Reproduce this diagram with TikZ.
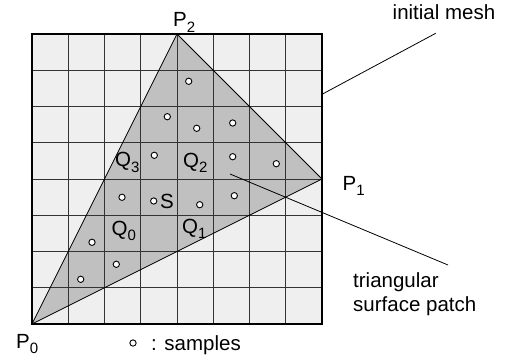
\documentclass[tikz,border=0pt]{standalone}
\usepackage{fontspec}
\setmainfont{Liberation Sans}
\newcommand\lbsub[1]{\raisebox{-0.28em}{\fontsize{15}{15}\selectfont #1}}
\definecolor{meshbg}{HTML}{EFEFEF}
\definecolor{patch}{HTML}{C0C0C0}
\begin{document}
\begin{tikzpicture}[x=1pt,y=-1pt,
  lbl/.style={font=\fontsize{20.5}{24}\selectfont, inner sep=0pt, anchor=base west},
  sample/.style={circle, draw, fill=white, minimum size=6.3pt, inner sep=0pt, line width=0.9pt},
  gridline/.style={line width=1pt, black!80},
  edge/.style={line width=0.8pt},
  leader/.style={line width=0.8pt}]
\useasboundingbox (0,0) rectangle (511,361);
% mesh background
\fill[meshbg] (32,34) rectangle (322,324);
\coordinate (P0) at (32,324);
\coordinate (P1) at (322,179);
\coordinate (P2) at (177,34);
% triangular patch
\fill[patch] (P0) -- (P1) -- (P2) -- cycle;
% grid
\foreach \k in {1,...,7}{
  \draw[gridline] ({32+36.25*\k},34) -- ({32+36.25*\k},324);
  \draw[gridline] (32,{34+36.25*\k}) -- (322,{34+36.25*\k});
}
\draw[edge] (P0) -- (P1) -- (P2) -- cycle;
\draw[line width=2.4pt] (32,34) rectangle (322,324);
% samples
\node[sample] (s1) at (188.7,81.3) {};
\node[sample] (s2) at (167.3,116.7) {};
\node[sample] (s3) at (196.7,128.3) {};
\node[sample] (s4) at (232.7,123) {};
\node[sample] (s5) at (154.3,155.3) {};
\node[sample] (s6) at (232.7,156.7) {};
\node[sample] (s7) at (276.3,163.7) {};
\node[sample] (s8) at (122,197.3) {};
\node[sample] (s9) at (153.7,201) {};
\node[sample] (s10) at (199.7,204.7) {};
\node[sample] (s11) at (234.3,195.7) {};
\node[sample] (s12) at (92,242.3) {};
\node[sample] (s13) at (116.3,264.3) {};
\node[sample] (s14) at (80.7,279.3) {};
% labels
\node[lbl] (lP2) at (173,26.7) {P\lbsub{2}};
\node[lbl] (lP1) at (342.5,190) {P\lbsub{1}};
\node[lbl] (lP0) at (16,348) {P\lbsub{0}};
\node[lbl] (lQ3) at (115,166.5) {Q\lbsub{3}};
\node[lbl] (lQ2) at (183,167) {Q\lbsub{2}};
\node[lbl] (lQ0) at (111.5,235) {Q\lbsub{0}};
\node[lbl] (lQ1) at (182,233) {Q\lbsub{1}};
\node[lbl] (lS) at (160,208) {S};
\node[lbl] (mesh) at (392.5,19.5) {initial mesh};
\node[lbl] (tri1) at (353,287.5) {triangular};
\node[lbl] (tri2) at (353,311.5) {surface patch};
\node[sample] (legend) at (133,343) {};
\node[lbl] (samples) at (151,350) {: samples};
% leaders
\coordinate (m1) at (322,94.3);
\coordinate (m2) at (435.7,33.3);
\draw[leader] (m1) -- (m2);
\coordinate (t1) at (230,174);
\coordinate (t2) at (448,265);
\draw[leader] (t1) -- (t2);
\end{tikzpicture}
\end{document}
